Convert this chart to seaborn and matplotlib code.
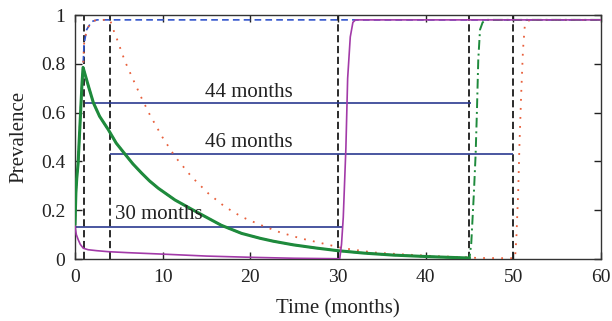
import matplotlib
matplotlib.use("Agg")
import matplotlib.pyplot as plt
import seaborn as sns
import pandas as pd

# ---------------- data ----------------
rise_t = [0, 0.1, 0.2, 0.35, 0.5, 0.65, 0.8, 0.92]
rise_v = [0.14, 0.27, 0.33, 0.39, 0.50, 0.61, 0.72, 0.785]

green_t = rise_t + [1.2, 1.6, 2.1, 2.8, 3.8, 4.7, 5.7, 6.6, 7.6, 8.5, 9.5, 11.4, 13.3,
                    15.2, 16.7, 19.0, 21.1, 22.6, 24.9, 27.5, 30.0, 33.0, 36.3, 40.1,
                    42.5, 45.0]
green_v = rise_v + [0.75, 0.70, 0.64, 0.585, 0.53, 0.475, 0.43, 0.39, 0.352, 0.32, 0.29,
                    0.242, 0.204, 0.167, 0.138, 0.105, 0.085, 0.073, 0.058, 0.045, 0.034,
                    0.024, 0.016, 0.010, 0.007, 0.004]

green_dd_t = green_t + [45.2, 45.5, 45.7, 45.85, 46.0, 46.2, 46.5, 47.0, 60.0]
green_dd_v = green_v + [0.064, 0.27, 0.43, 0.61, 0.816, 0.94, 0.97, 0.98, 0.98]

blue_t = rise_t + [1.03, 1.33, 1.9, 2.5, 60.0]
blue_v = rise_v + [0.88, 0.94, 0.973, 0.98, 0.98]

red_t = rise_t + [1.03, 1.33, 1.9, 2.5, 4.0, 4.37, 4.8, 5.3, 5.7, 6.65, 7.6, 8.55, 9.96,
                  11.4, 13.3, 15.2, 17.1, 19.0, 21.2, 23.4, 25.7, 28.7, 30.6, 34.0, 37.4,
                  40.9, 44.7, 46.0, 50.2, 50.35, 50.55, 50.7, 50.9, 51.1, 51.3, 51.6,
                  52.0, 60.0]
red_v = rise_v + [0.88, 0.94, 0.973, 0.98, 0.98, 0.94, 0.90, 0.85, 0.81, 0.734, 0.659,
                  0.59, 0.50, 0.42, 0.337, 0.269, 0.214, 0.173, 0.139, 0.109, 0.085, 0.06,
                  0.044, 0.027, 0.019, 0.012, 0.007, 0.004, 0.003, 0.09, 0.27, 0.47,
                  0.68, 0.857, 0.952, 0.975, 0.98, 0.98]

purple_t = [0, 0.15, 0.38, 0.6, 0.95, 1.5, 2.5, 3.8, 6.0, 10.0, 15.0, 20.0, 25.0, 30.2,
            30.4, 30.6, 30.9, 31.1, 31.4, 31.7, 32.0, 60.0]
purple_v = [0.135, 0.10, 0.078, 0.06, 0.044, 0.038, 0.034, 0.03, 0.026, 0.02, 0.012,
            0.007, 0.003, 0.001, 0.06, 0.17, 0.455, 0.74, 0.91, 0.97, 0.98, 0.98]

vlines_x = [1, 4, 30, 45, 50]

hline_y = [0.638, 0.43, 0.133]
hline_start = [1.1, 3.95, 0.0]
hline_end = [45.2, 50.0, 30.4]

label_texts = ["44 months", "46 months", "30 months"]
label_x = [14.8, 14.8, 4.6]
label_y = [0.665, 0.458, 0.163]

xticks = [0, 10, 20, 30, 40, 50, 60]
yticks = [0, 0.2, 0.4, 0.6, 0.8, 1.0]
ytick_labels = ["0", "0.2", "0.4", "0.6", "0.8", "1"]

# ---------------- plotting ----------------
sns.set_theme(style="ticks")
plt.rcParams["font.family"] = ["Liberation Serif", "DejaVu Serif"]

fig = plt.figure(figsize=(6.12, 3.21), dpi=100)
ax = fig.add_axes([75 / 612, 62 / 321, 526 / 612, 244 / 321])

# vertical dashed markers
for xv in vlines_x:
    ax.axvline(xv, color="#1a1a1a", lw=1.3, ls=(0, (4, 2)), zorder=1)

# horizontal duration bars
ax.hlines(hline_y, hline_start, hline_end, color="#2b3990", lw=1.2, zorder=2)

def line(t, v, **kw):
    df = pd.DataFrame({"t": t, "v": v})
    sns.lineplot(data=df, x="t", y="v", ax=ax, estimator=None, sort=False, **kw)

line(blue_t, blue_v, color="#3355cc", lw=1.2, ls=(0, (4, 2.5)), zorder=3)
line(red_t, red_v, color="#e8603c", lw=1.3, ls=(0, (1, 4)), zorder=4)
line(green_dd_t, green_dd_v, color="#1e8a3c", lw=1.4, ls=(0, (5, 2, 1, 2)), zorder=5)
line(green_t, green_v, color="#1e8a3c", lw=2.2, zorder=6)
line(purple_t, purple_v, color="#a23aa8", lw=1.2, zorder=7)

for txt, tx, ty in zip(label_texts, label_x, label_y):
    ax.text(tx, ty, txt, fontsize=15, color="#222222", ha="left", va="baseline", zorder=8)

ax.set_xlim(0, 60)
ax.set_ylim(0, 1)
ax.set_xticks(xticks)
ax.set_yticks(yticks)
ax.set_yticklabels(ytick_labels)
ax.set_xlabel("Time (months)", fontsize=15, color="#222222", labelpad=10)
ax.set_ylabel("Prevalence", fontsize=15, color="#222222", labelpad=9)
ax.tick_params(direction="in", top=True, right=True, length=5, width=1,
               labelsize=14, colors="#222222", pad=7)
for s in ax.spines.values():
    s.set_visible(True)
    s.set_color("#333333")
    s.set_linewidth(1.0)

fig.savefig("out.png", dpi=100)
